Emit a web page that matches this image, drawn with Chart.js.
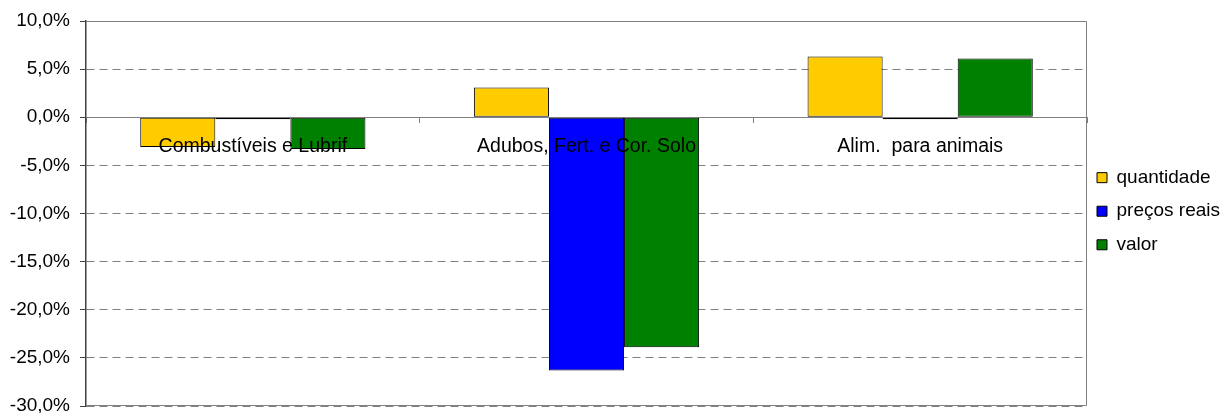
<!DOCTYPE html>
<html>
<head>
<meta charset="utf-8">
<script src="https://cdn.jsdelivr.net/npm/chart.js@4/dist/chart.umd.min.js"></script>
<style>
  html, body { margin: 0; padding: 0; background: #fff; }
  #wrap { width: 1230px; height: 413px; }
</style>
</head>
<body>
<div id="wrap"><canvas id="grafico"></canvas></div>
<script>
// dados
var categorias = ['Combustíveis e Lubrif', 'Adubos, Fert. e Cor. Solo', 'Alim.  para animais'];
var quantidade = [-3.1, 3.1, 6.3];
var precosReais = [-0.2, -26.3, -0.2];
var valor = [-3.3, -23.9, 6.1];
var ticksY = [10, 5, 0, -5, -10, -15, -20, -25, -30];

var fonte = "'Liberation Sans', Arial, sans-serif";

// moldura cinza da área do gráfico
var moldura = {
    id: 'moldura',
    beforeDatasetsDraw: function(chart) {
        var a = chart.chartArea;
        var ctx = chart.ctx;
        ctx.save();
        ctx.strokeStyle = '#808080';
        ctx.lineWidth = 1;
        ctx.beginPath();
        ctx.moveTo(a.left, a.top + 0.5);
        ctx.lineTo(a.right - 0.5, a.top + 0.5);
        ctx.lineTo(a.right - 0.5, a.bottom - 0.5);
        ctx.lineTo(a.left, a.bottom - 0.5);
        ctx.stroke();
        ctx.restore();
    }
};

var ctx = document.getElementById('grafico');
var myChart = new Chart(ctx, {
    type: 'bar',
    data: {
        labels: categorias,
        datasets: [
            { label: 'quantidade', data: quantidade, backgroundColor: '#FFCC00' },
            { label: 'preços reais', data: precosReais, backgroundColor: '#0000FF' },
            { label: 'valor', data: valor, backgroundColor: '#008000' }
        ]
    },
    options: {
        responsive: true,
        maintainAspectRatio: false,
        animation: false,
        devicePixelRatio: 1,
        layout: { padding: { top: 21, bottom: 7, left: 0, right: 0 } },
        datasets: {
            bar: {
                categoryPercentage: 0.675,
                barPercentage: 1,
                borderColor: '#000',
                borderWidth: 1,
                borderSkipped: false
            }
        },
        scales: {
            x: {
                position: { y: 0 },
                grid: {
                    offset: true,
                    drawOnChartArea: false,
                    drawTicks: true,
                    tickLength: 5,
                    tickColor: '#808080'
                },
                border: { display: true, color: '#808080', width: 1, z: 1 },
                ticks: {
                    z: 1,
                    padding: 13,
                    color: '#000',
                    maxRotation: 0,
                    autoSkip: false,
                    font: { family: fonte, size: 19.5 }
                }
            },
            y: {
                min: -30,
                max: 10,
                afterBuildTicks: function(scale) {
                    scale.ticks = ticksY.map(function(v) { return { value: v }; });
                },
                afterFit: function(scale) {
                    scale.width = 86;
                    scale.paddingTop = 0;
                    scale.paddingBottom = 0;
                },
                grid: {
                    color: '#808080',
                    lineWidth: 1,
                    tickLength: 6,
                    tickColor: '#404040',
                    tickBorderDash: []
                },
                border: { display: true, color: '#404040', width: 1.5, dash: [8, 5] },
                ticks: {
                    padding: 10,
                    color: '#000',
                    font: { family: fonte, size: 19 },
                    callback: function(v) {
                        return v.toFixed(1).replace('.', ',') + '%';
                    }
                }
            }
        },
        plugins: {
            legend: {
                position: 'right',
                labels: {
                    boxWidth: 10,
                    boxHeight: 10,
                    padding: 10,
                    color: '#000',
                    font: { family: fonte, size: 19, lineHeight: 1.24 },
                    generateLabels: function(chart) {
                        var itens = Chart.defaults.plugins.legend.labels.generateLabels(chart);
                        itens.forEach(function(it) { it.text = [it.text]; });
                        return itens;
                    }
                }
            },
            tooltip: { enabled: false },
            title: { display: false }
        }
    },
    plugins: [moldura]
});
myChart.update();
</script>
</body>
</html>
